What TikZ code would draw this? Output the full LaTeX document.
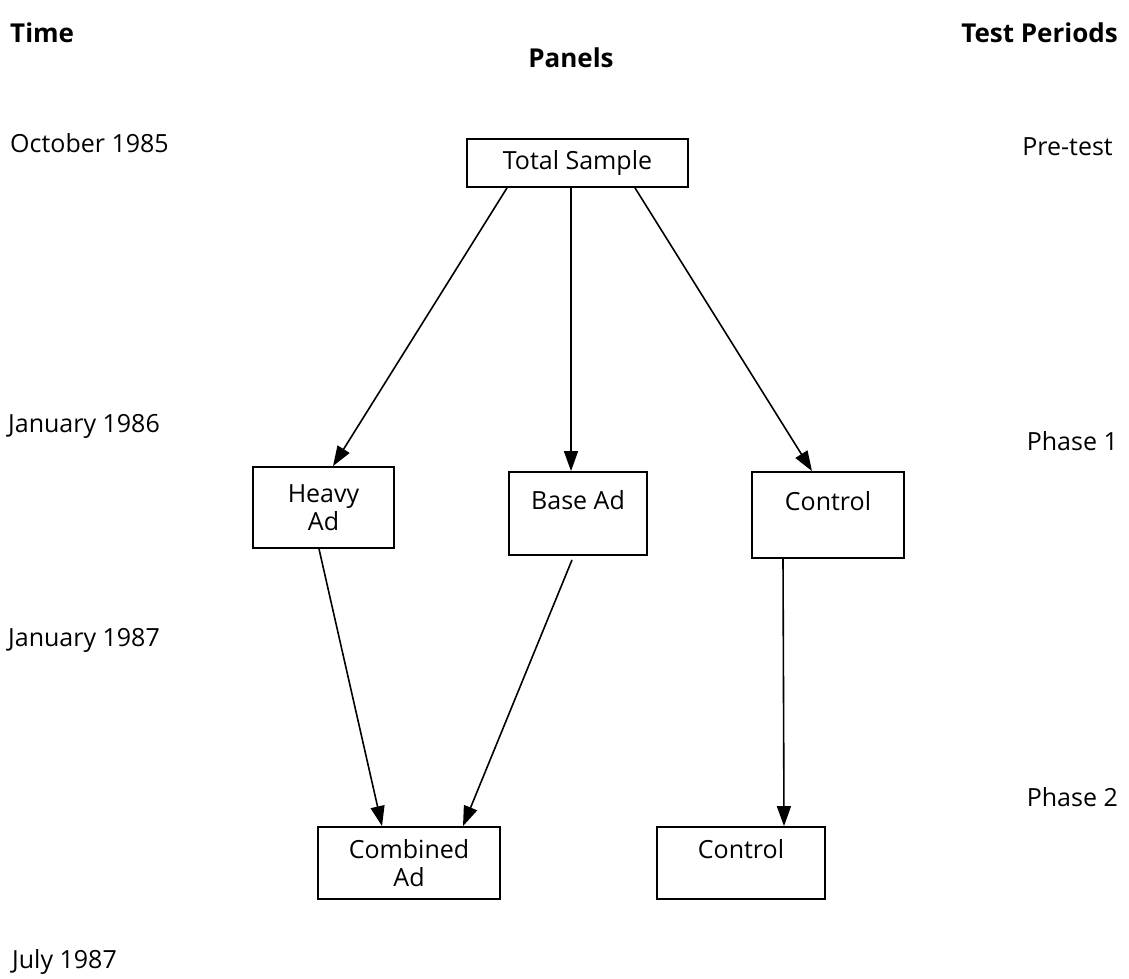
\documentclass[tikz,border=0pt]{standalone}
\usepackage{fontspec}
\setmainfont{Open Sans}
\usetikzlibrary{arrows.meta}
\begin{document}
\begin{tikzpicture}[x=1pt,y=-1pt,
  box/.style={draw,line width=1.8pt,inner sep=0pt,align=center,font=\fontsize{25}{28}\selectfont},
  lbl/.style={inner sep=0pt,font=\fontsize{25}{28}\selectfont},
  head/.style={inner sep=0pt,font=\fontsize{26}{30}\selectfont\bfseries},
  arr/.style={line width=1.6pt,-{Triangle[length=20pt,width=14pt]}}]
\useasboundingbox (0,0) rectangle (1129,979);
% headings
\node[head,anchor=base west] (hTime) at (10,43) {Time};
\node[head,anchor=base] (hPanels) at (571,68) {Panels};
\node[head,anchor=base east] (hTest) at (1118,43) {Test Periods};
% time labels
\node[lbl,anchor=base west] (t1) at (10,152) {October 1985};
\node[lbl,anchor=base west] (t2) at (8,432) {January 1986};
\node[lbl,anchor=base west] (t3) at (8,646) {January 1987};
\node[lbl,anchor=base west] (t4) at (12,968) {July 1987};
% periods
\node[lbl,anchor=base east] (p1) at (1113,155) {Pre-test};
\node[lbl,anchor=base east] (p2) at (1118,450) {Phase 1};
\node[lbl,anchor=base east] (p3) at (1118,806) {Phase 2};
% boxes
\node[box,minimum width=221pt,minimum height=48pt] (ts) at (577.5,163) {Total Sample};
\node[box,minimum width=141pt,minimum height=81pt] (heavy) at (323.5,507.5) {Heavy\\Ad};
\node[box,minimum width=138pt,minimum height=83pt] (base) at (578,513.5) {Base Ad\\\mbox{}};
\node[box,minimum width=152pt,minimum height=86pt] (ctrl1) at (828,515) {Control\\\mbox{}};
\node[box,minimum width=182pt,minimum height=72pt] (comb) at (409,863) {Combined\\Ad};
\node[box,minimum width=168pt,minimum height=72pt] (ctrl2) at (741,863) {Control\\\mbox{}};
% arrows
\draw[arr] ([xshift=-70.5pt]ts.south) -- ([xshift=9.5pt]heavy.north);
\draw[arr] ([xshift=-6.5pt]ts.south) -- ([xshift=-7pt]base.north);
\draw[arr] ([xshift=57.5pt]ts.south) -- ([xshift=-16pt]ctrl1.north);
\draw[arr] ([xshift=-4.5pt]heavy.south) -- ([xshift=-27pt]comb.north);
\draw[arr] ([xshift=-6pt,yshift=-4pt]base.south) -- ([xshift=54pt]comb.north);
\draw[arr] ([xshift=-45pt]ctrl1.south) -- ([xshift=43pt]ctrl2.north);
\end{tikzpicture}
\end{document}
